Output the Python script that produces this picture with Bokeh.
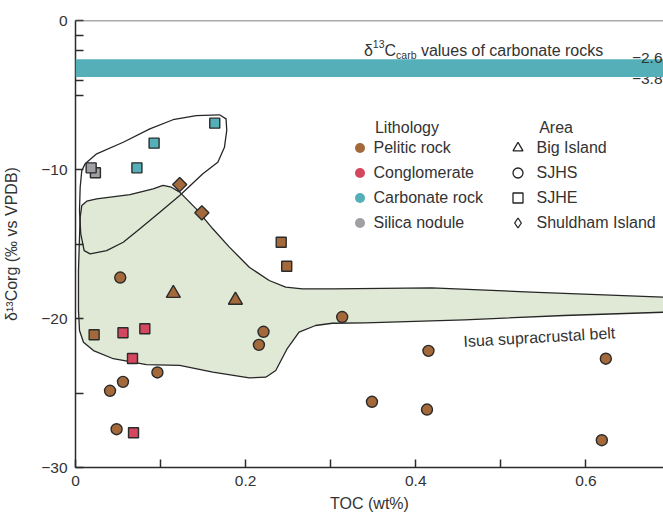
import math
from bokeh.plotting import figure
from bokeh.models import (ColumnDataSource, Range1d, FixedTicker, Legend, LegendItem,
                          Label, BoxAnnotation, Span)
from bokeh.embed import file_html
from bokeh.resources import INLINE

FONT = "Liberation Sans"
TEXT = "#333333"

# ---------------- data ----------------
toc = [0.0526, 0.3135, 0.2210, 0.2156, 0.0963, 0.0558, 0.0406, 0.0483, 0.4149, 0.6234, 0.3485, 0.4132, 0.6187,
       0.1150, 0.1880,
       0.2418, 0.2483, 0.0219,
       0.1225, 0.1485,
       0.0558, 0.0815, 0.0670, 0.0682,
       0.1637, 0.0924, 0.0722,
       0.0234, 0.0184]
d13c = [-17.25, -19.90, -20.89, -21.77, -23.62, -24.25, -24.85, -27.43, -22.17, -22.70, -25.59, -26.11, -28.17,
        -18.31, -18.77,
        -14.88, -16.49, -21.09,
        -11.01, -12.91,
        -20.96, -20.69, -22.68, -27.67,
        -6.89, -8.23, -9.89,
        -10.22, -9.89]
lithology = ["Pelitic rock", "Pelitic rock", "Pelitic rock", "Pelitic rock", "Pelitic rock", "Pelitic rock",
             "Pelitic rock", "Pelitic rock", "Pelitic rock", "Pelitic rock", "Pelitic rock", "Pelitic rock",
             "Pelitic rock",
             "Pelitic rock", "Pelitic rock",
             "Pelitic rock", "Pelitic rock", "Pelitic rock",
             "Pelitic rock", "Pelitic rock",
             "Conglomerate", "Conglomerate", "Conglomerate", "Conglomerate",
             "Carbonate rock", "Carbonate rock", "Carbonate rock",
             "Silica nodule", "Silica nodule"]
area = ["SJHS", "SJHS", "SJHS", "SJHS", "SJHS", "SJHS", "SJHS", "SJHS", "SJHS", "SJHS", "SJHS", "SJHS", "SJHS",
        "Big Island", "Big Island",
        "SJHE", "SJHE", "SJHE",
        "Shuldham Island", "Shuldham Island",
        "SJHE", "SJHE", "SJHE", "SJHE",
        "SJHE", "SJHE", "SJHE",
        "SJHE", "SJHE"]

lith_names = ["Pelitic rock", "Conglomerate", "Carbonate rock", "Silica nodule"]
lith_colors = ["#a3693b", "#d5465f", "#55afb8", "#9ea0a3"]
area_names = ["Big Island", "SJHS", "SJHE", "Shuldham Island"]

# d13C of carbonate rocks (band)
band_low, band_high = -3.8, -2.6
band_labels = ["\u22122.6", "\u22123.8"]

# Isua supracrustal belt field (outline)
belt_x = [0.0055, 0.0074, 0.0132, 0.0249, 0.0640, 0.0912, 0.1029, 0.1126, 0.1225, 0.1419, 0.1614, 0.1809,
          0.2043, 0.2277, 0.2471, 0.2667, 0.3018, 0.4187, 0.5357, 0.6912, 0.7500, 0.7500, 0.6912, 0.5743,
          0.4573, 0.3404, 0.3018, 0.2822, 0.2628, 0.2491, 0.2354, 0.2237, 0.2043, 0.1614, 0.1225, 0.0834,
          0.0444, 0.0211, 0.0094, 0.0047, 0.0035, 0.0035, 0.0047]
belt_y = [-13.20, -12.42, -12.13, -11.97, -11.68, -11.30, -11.07, -11.19, -11.52, -12.64, -13.98, -15.21,
          -16.56, -17.45, -17.90, -18.01, -18.01, -17.94, -18.23, -18.57, -18.68, -19.50, -19.58, -19.80,
          -20.09, -20.29, -20.32, -20.47, -20.92, -22.00, -23.49, -23.94, -23.98, -23.60, -23.15, -23.09,
          -22.70, -22.15, -21.59, -20.81, -19.46, -16.78, -14.54]

# carbonate / silica field outline
carb_x = [0.0074, 0.0113, 0.0249, 0.0561, 0.0874, 0.1146, 0.1419, 0.1692, 0.1770, 0.1778, 0.1751, 0.1673,
          0.1497, 0.1225, 0.0991, 0.0757, 0.0561, 0.0366, 0.0172, 0.0102, 0.0062, 0.0047, 0.0055]
carb_y = [-10.07, -9.62, -8.95, -8.17, -7.27, -6.66, -6.38, -6.33, -6.60, -7.38, -8.50, -9.51,
          -10.29, -11.74, -12.87, -13.98, -14.88, -15.44, -15.66, -15.44, -14.32, -12.75, -11.19]

x_ticks = [0, 0.2, 0.4, 0.6]
x_minor = [0.1, 0.3, 0.5]
y_ticks = [0, -10, -20, -30]
y_minor = [-1, -2, -3, -4, -5, -15, -25]
y_tick_labels = ["0", "\u221210", "\u221220", "\u221230"]

X_MAX = 0.6912
NAN = float("nan")

# ---------------- figure ----------------
p = figure(width=663, height=516, x_range=Range1d(0, X_MAX), y_range=Range1d(-30, 0),
           output_backend="svg", toolbar_location=None,
           min_border_left=72, min_border_right=0, min_border_top=20, min_border_bottom=49)
p.grid.visible = False
p.outline_line_color = None
p.background_fill_color = "white"
p.border_fill_color = "white"

# fields
p.patch(belt_x, belt_y, fill_color="#dfe9d6", line_color="#262626", line_width=1.3, line_join="round")
p.patch(carb_x, carb_y, fill_color=None, line_color="#262626", line_width=1.3, line_join="round")

# points
marker_style = {
    "Big Island": dict(marker="triangle", size=14, angle=0.0),
    "SJHS": dict(marker="circle", size=11, angle=0.0),
    "SJHE": dict(marker="square", size=10, angle=0.0),
    "Shuldham Island": dict(marker="square", size=10, angle=math.pi / 4),
}
for lname, lcolor in zip(lith_names, lith_colors):
    for aname in area_names:
        xs = [t for t, l, a in zip(toc, lithology, area) if l == lname and a == aname]
        ys = [v for v, l, a in zip(d13c, lithology, area) if l == lname and a == aname]
        if not xs:
            continue
        src = ColumnDataSource(dict(x=xs, y=ys))
        st = marker_style[aname]
        p.scatter(x="x", y="y", source=src, marker=st["marker"], size=st["size"], angle=st["angle"],
                  fill_color=lcolor, line_color="#2b2b2b", line_width=1.4)

# band labels (the lower one sits partly behind the band)
p.add_layout(Label(x=X_MAX, y=band_low, text=band_labels[1], text_align="right", text_baseline="middle",
                   x_offset=-1, y_offset=-1.5, text_font=FONT, text_font_size="15.5px", text_color=TEXT))
p.add_layout(BoxAnnotation(bottom=band_low, top=band_high, fill_color="#55afb8", fill_alpha=1.0,
                           line_color=None))
p.add_layout(Label(x=X_MAX, y=band_high, text=band_labels[0], text_align="right", text_baseline="alphabetic",
                   x_offset=-1, y_offset=1, text_font=FONT, text_font_size="15.5px", text_color=TEXT))

# band title with super/subscripts
bx = 0.339
parts = [("\u03b4", 0.0, 8.7, "16px"), ("13", 8.9, 15.2, "10.5px"), ("C", 20.6, 8.7, "16px"),
         ("carb", 32.2, 4.7, "10.5px"), ("values of carbonate rocks", 57.0, 8.7, "16px")]
for txt, xo, yo, fs in parts:
    p.add_layout(Label(x=bx, y=band_high, text=txt, x_offset=xo, y_offset=yo, text_baseline="alphabetic",
                       text_font=FONT, text_font_size=fs, text_color=TEXT))

# belt label
p.add_layout(Label(x=0.456, y=-21.54, text="Isua supracrustal belt", angle=0.057, text_baseline="alphabetic",
                   text_font=FONT, text_font_size="16px", text_color=TEXT))

# top frame line
p.add_layout(Span(location=0, dimension="width", line_color="#555555", line_width=1.5))

# legends (proxy renderers hold one NaN point, so nothing is drawn in the plot area)
lith_items = []
for lname, lcolor in zip(lith_names, lith_colors):
    r = p.scatter(x=[NAN], y=[NAN], marker="circle", size=10, fill_color=lcolor, line_color=None)
    lith_items.append(LegendItem(label=lname, renderers=[r]))
area_legend_markers = ["triangle", "circle", "square", "diamond"]
area_items = []
for aname, mk in zip(area_names, area_legend_markers):
    r = p.scatter(x=[NAN], y=[NAN], marker=mk, size=10, fill_color=None, line_color="#222222", line_width=1.3)
    area_items.append(LegendItem(label=aname, renderers=[r]))

common = dict(orientation="vertical", padding=0, margin=0, spacing=0, glyph_width=25, glyph_height=25,
              label_height=25, label_text_font=FONT, label_text_font_size="16px", label_text_color=TEXT,
              border_line_color=None, background_fill_alpha=0)
p.add_layout(Legend(items=lith_items, location=(271.5, 232), label_standoff=2, **common))
p.add_layout(Legend(items=area_items, location=(429.5, 232), label_standoff=7, **common))

p.add_layout(Label(x=0.3520, y=-7.18, text="Lithology", text_baseline="middle", text_font=FONT,
                   text_font_size="16px", text_color=TEXT))
p.add_layout(Label(x=0.5450, y=-7.18, text="Area", text_baseline="middle", text_font=FONT,
                   text_font_size="16px", text_color=TEXT))

# axes
for ax in (p.xaxis[0], p.yaxis[0]):
    ax.axis_line_color = "#2b2b2b"
    ax.axis_line_width = 1.5
    ax.major_tick_line_color = "#2b2b2b"
    ax.minor_tick_line_color = "#2b2b2b"
    ax.major_tick_line_width = 1.5
    ax.minor_tick_line_width = 1.5
    ax.major_tick_out = 0
    ax.minor_tick_out = 0
    ax.major_tick_in = 8
    ax.minor_tick_in = 8
    ax.major_label_text_font = FONT
    ax.major_label_text_font_size = "15.5px"
    ax.major_label_text_color = TEXT
    ax.major_label_standoff = 8
    ax.axis_label_text_font = FONT
    ax.axis_label_text_font_size = "16px"
    ax.axis_label_text_font_style = "normal"
    ax.axis_label_text_color = TEXT

p.xaxis.ticker = FixedTicker(ticks=x_ticks, minor_ticks=x_minor)
p.yaxis.ticker = FixedTicker(ticks=y_ticks, minor_ticks=y_minor)
p.yaxis.major_label_overrides = {t: s for t, s in zip(y_ticks, y_tick_labels)}
p.xaxis.axis_label = "TOC (wt%)"
p.yaxis.axis_label = "\u03b4\u00b9\u00b3Corg (\u2030 vs VPDB)"
p.xaxis.axis_label_standoff = 6
p.yaxis.axis_label_standoff = 18

open("out.html", "w").write(file_html(p, INLINE))
